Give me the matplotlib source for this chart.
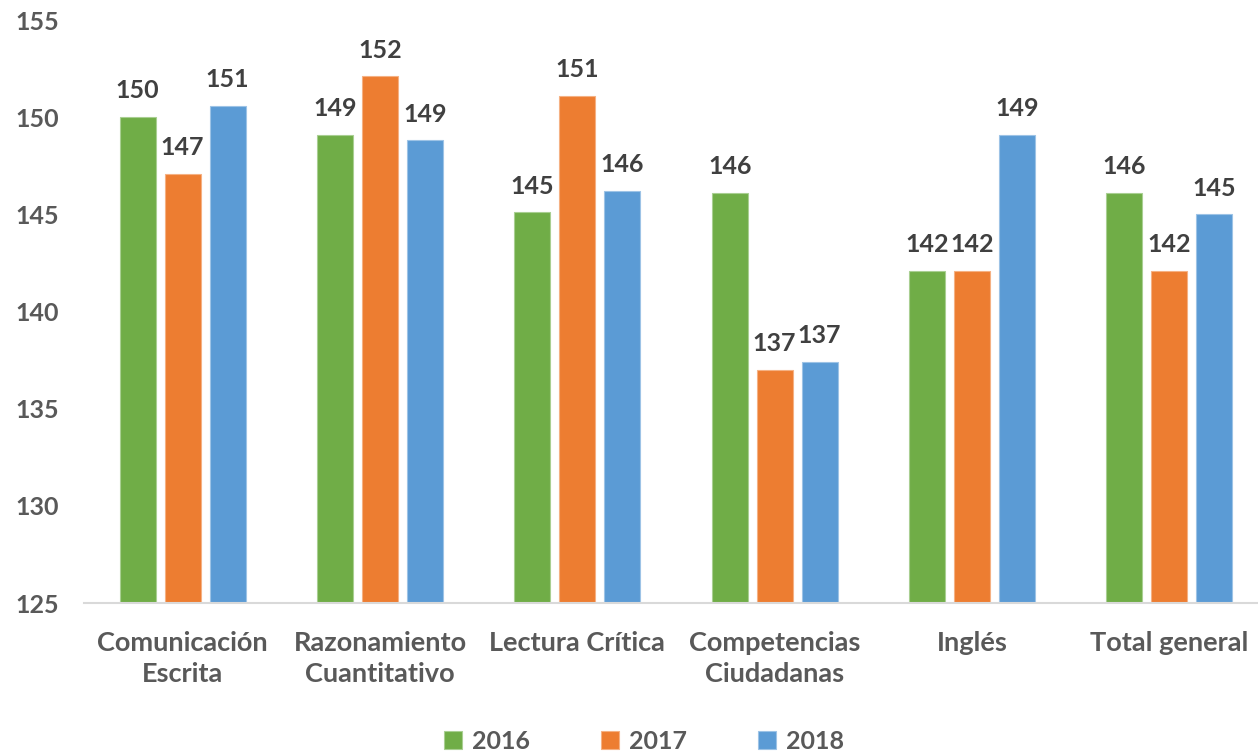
import numpy as np
import matplotlib.pyplot as plt

categories = ['Comunicación\nEscrita', 'Razonamiento\nCuantitativo', 'Lectura Crítica',
              'Competencias\nCiudadanas', 'Inglés', 'Total general']
years = ['2016', '2017', '2018']
vals_2016 = [150.0, 149.1, 145.1, 146.1, 142.1, 146.1]
vals_2017 = [147.1, 152.1, 151.1, 137.0, 142.1, 142.1]
vals_2018 = [150.6, 148.8, 146.2, 137.4, 149.1, 145.0]
labels_2016 = ['150', '149', '145', '146', '142', '146']
labels_2017 = ['147', '152', '151', '137', '142', '142']
labels_2018 = ['151', '149', '146', '137', '149', '145']
yticks = [125, 130, 135, 140, 145, 150, 155]

colours = ['#70AD47', '#ED7D31', '#5B9BD5']
edges = ['#A9CF92', '#F5B183', '#9DC3E6']
txt = '#595959'
plt.rcParams['font.family'] = ['Lato', 'DejaVu Sans']
fs = 18

fig = plt.figure(figsize=(12.58, 7.52), dpi=100)
ax = fig.add_axes([84 / 1258, 149 / 752, 1184 / 1258, 583 / 752])

x = np.arange(len(categories))
width = 0.182
step = 0.228
series = [(vals_2016, labels_2016), (vals_2017, labels_2017), (vals_2018, labels_2018)]
for i, (vals, labs) in enumerate(series):
    pos = x + (i - 1) * step
    ax.bar(pos, np.array(vals) - 125, bottom=125, width=width, color=colours[i],
           edgecolor=edges[i], linewidth=0.8, label=years[i])
    for px, v, lab in zip(pos, vals, labs):
        ax.annotate(lab, (px, v), xytext=(0, 13.5), textcoords='offset points',
                    ha='center', va='baseline', fontsize=fs, fontweight='bold',
                    color='#404040')

ax.set_xlim(-0.5, len(categories) - 0.5)
ax.set_ylim(125, 155)
ax.set_yticks(yticks)
ax.set_yticklabels([str(t) for t in yticks], fontsize=fs, fontweight='bold', color=txt)
ax.set_xticks(x)
ax.set_xticklabels(categories, fontsize=19.5, fontweight='bold', color=txt, linespacing=1.38)
ax.tick_params(axis='both', length=0)
ax.tick_params(axis='x', pad=20)
ax.tick_params(axis='y', pad=18)
for side in ['top', 'right', 'left']:
    ax.spines[side].set_visible(False)
ax.spines['bottom'].set_color('#D9D9D9')
ax.spines['bottom'].set_linewidth(1.5)

fig.legend(loc='lower center', bbox_to_anchor=(0.512, -0.031), ncol=3, frameon=False,
           handlelength=0.72, handleheight=0.72, handletextpad=0.4, columnspacing=2.85,
           prop={'size': fs, 'weight': 'bold'}, labelcolor=txt)

fig.savefig('out.png', dpi=100)
